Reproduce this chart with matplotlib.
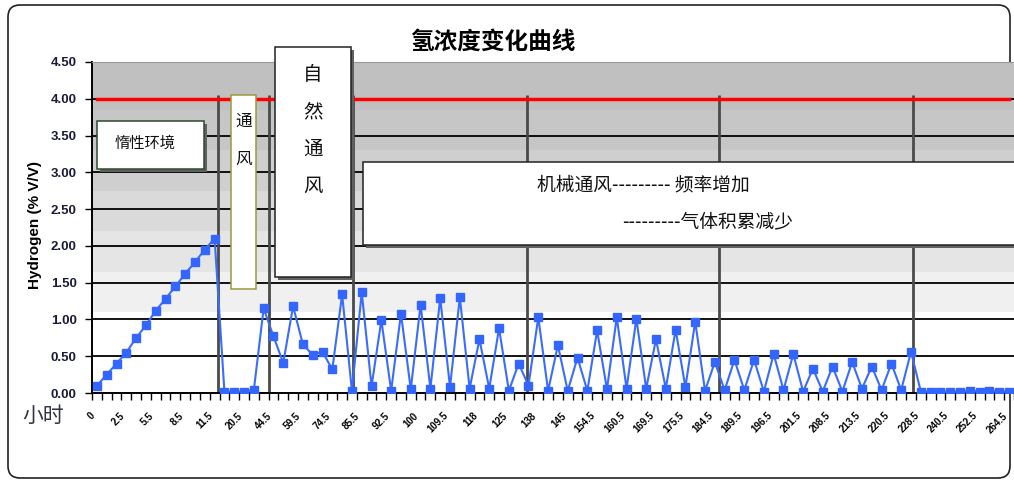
import numpy as np
import matplotlib
matplotlib.use('Agg')
import matplotlib.pyplot as plt
from matplotlib.patches import Rectangle, FancyBboxPatch
from matplotlib.transforms import ScaledTranslation, blended_transform_factory

plt.rcParams['font.family'] = ['Noto Sans CJK SC', 'DejaVu Sans']

# elapsed time (h), one label every third reading
hours = ['0', '2.5', '5.5', '8.5', '11.5', '20.5', '44.5', '59.5', '74.5', '85.5',
         '92.5', '100', '109.5', '118', '125', '138', '145', '154.5', '160.5', '169.5',
         '175.5', '184.5', '189.5', '196.5', '201.5', '208.5', '213.5', '220.5', '228.5',
         '240.5', '252.5', '264.5']

# hydrogen concentration, % V/V
hydrogen = [0.10, 0.25, 0.40, 0.55, 0.75, 0.92, 1.12, 1.28, 1.45, 1.62, 1.78, 1.95, 2.10,
            0.02, 0.02, 0.02, 0.04, 1.15, 0.77, 0.41, 1.18, 0.66, 0.52, 0.56, 0.32, 1.34,
            0.03, 1.37, 0.09, 0.99, 0.03, 1.08, 0.05, 1.20, 0.06, 1.29, 0.08, 1.30, 0.06,
            0.73, 0.06, 0.88, 0.03, 0.40, 0.10, 1.03, 0.03, 0.65, 0.03, 0.48, 0.03, 0.85,
            0.05, 1.03, 0.06, 1.01, 0.06, 0.73, 0.06, 0.86, 0.08, 0.97, 0.03, 0.42, 0.04,
            0.45, 0.04, 0.45, 0.02, 0.53, 0.04, 0.53, 0.02, 0.33, 0.02, 0.36, 0.02, 0.42,
            0.06, 0.36, 0.04, 0.40, 0.04, 0.56, 0.02, 0.02, 0.02, 0.02, 0.02, 0.03, 0.02,
            0.03, 0.02, 0.02]

limit = 4.0                                         # lower explosive limit
phase_breaks = [12.3, 17.5, 26.1, 43.8, 63.4, 83.2]  # stage boundaries (reading index)

W, H = 1014, 482
fig = plt.figure(figsize=(W / 100, H / 100), dpi=100)
px = fig.dpi_scale_trans  # positions below in pixels / 100, origin bottom-left

# outer chart frame
fig.add_artist(FancyBboxPatch((0.08, (H - 478) / 100), 10.02, 4.73,
                              boxstyle='round,pad=0,rounding_size=0.12',
                              transform=px, fc='white', ec='#222222', lw=1.2, zorder=-1))

ax = fig.add_axes([92 / W, 1 - 393 / H, (W - 92) / W, (393 - 62) / H])
ax.set_facecolor('white')

# stepped grey fill of the plot area
bands = [(1.1, 1.65, '#f0f0f0'), (1.65, 2.2, '#e5e5e5'), (2.2, 2.75, '#dadada'),
         (2.75, 3.3, '#cfcfcf'), (3.3, 3.85, '#c6c6c6'), (3.85, 4.5, '#c0c0c0')]
for lo, hi, c in bands:
    ax.axhspan(lo, hi, color=c, lw=0, zorder=0)

x = np.arange(len(hydrogen))
ax.vlines(phase_breaks, 0, 4.05, color='#4a4a4a', lw=2, zorder=2)
ax.plot(x, [limit] * len(x), color='#ff0000', lw=2.5, zorder=3)
ax.plot(x, hydrogen, color='#3a6cff', lw=1.5, marker='s', ms=5.5,
        mfc='#3366ff', mec='#3366ff', zorder=4)

ax.set_ylim(0, 4.5)
ax.set_xlim(-0.5, 93.2)
ax.set_yticks(np.arange(0, 4.51, 0.5))
ax.set_yticklabels(['%.2f' % v for v in np.arange(0, 4.51, 0.5)],
                   fontsize=9.5, fontweight='bold', family='Liberation Sans', color='#1a1a3a')
ax.set_axisbelow(True)
ax.yaxis.grid(True, color='black', lw=1.3)

# slanted hour labels, drawn as plain texts so they can sit left of their reading
label_pos = np.arange(0, len(hydrogen), 3)
ax.set_xticks(label_pos)
ax.set_xticklabels([])
lab_tr = blended_transform_factory(ax.transData, ax.transAxes) + \
    ScaledTranslation(-0.07, -0.175, fig.dpi_scale_trans)
for i, lab in zip(label_pos, hours):
    ax.text(i, 0, lab, transform=lab_tr, rotation=45, ha='right', va='top',
            rotation_mode='anchor', fontsize=7, fontweight='bold',
            family='Liberation Sans', clip_on=False)
ax.set_xticks(np.arange(-0.5, len(hydrogen), 1), minor=True)
ax.tick_params(axis='x', which='major', length=0)
ax.tick_params(axis='x', which='minor', length=5, width=1, color='black')
ax.tick_params(axis='y', length=5, width=1, color='black', pad=6)

ax.spines['right'].set_visible(False)
ax.spines['top'].set_color('#9a9a9a')
ax.spines['left'].set_linewidth(1.4)
ax.spines['bottom'].set_linewidth(1.4)

fig.text(493 / 100, (H - 42) / 100, '氢浓度变化曲线', transform=px, ha='center', va='center',
         fontsize=17, fontweight='bold')
fig.text(35 / 100, (H - 225) / 100, 'Hydrogen (% V/V)', transform=px, rotation=90,
         ha='center', va='center', fontsize=11, fontweight='bold', family='Liberation Sans')
fig.text(43 / 100, (H - 416) / 100, '小时', transform=px, ha='center', va='center',
         fontsize=15, color='#333348')


def note_box(x0, y0, x1, y1, edge, shadow=True):
    # boxes given by pixel corners measured from the top-left
    if shadow:
        fig.add_artist(Rectangle(((x0 + 3) / 100, (H - y1 - 3) / 100), (x1 - x0) / 100,
                                 (y1 - y0) / 100, transform=px, fc='#606060', ec='none', zorder=5))
    fig.add_artist(Rectangle((x0 / 100, (H - y1) / 100), (x1 - x0) / 100, (y1 - y0) / 100,
                             transform=px, fc='white', ec=edge, lw=1.1, zorder=6))


def note_text(x, y, s, size, ha='center'):
    fig.text(x / 100, (H - y) / 100, s, transform=px, ha=ha, va='center',
             fontsize=size, color='#111111', zorder=7)


note_box(97, 121, 204, 169, '#2d4a2d')
note_text(145, 143, '惰性环境', 11)

note_box(231, 95, 256, 289, '#9a9a3a', shadow=False)
for k, ch in enumerate('通风'):
    note_text(244, 121 + 38 * k, ch, 12)

note_box(275, 47, 351, 277, '#222222')
for k, ch in enumerate('自然通风'):
    note_text(313, 75 + 37 * k, ch, 14)

note_box(363, 162, 1030, 245, '#222222')
note_text(537, 185, '机械通风--------- 频率增加', 13.5, ha='left')
note_text(622, 222, '---------气体积累减少', 13.5, ha='left')

fig.savefig('out.png', dpi=100)
